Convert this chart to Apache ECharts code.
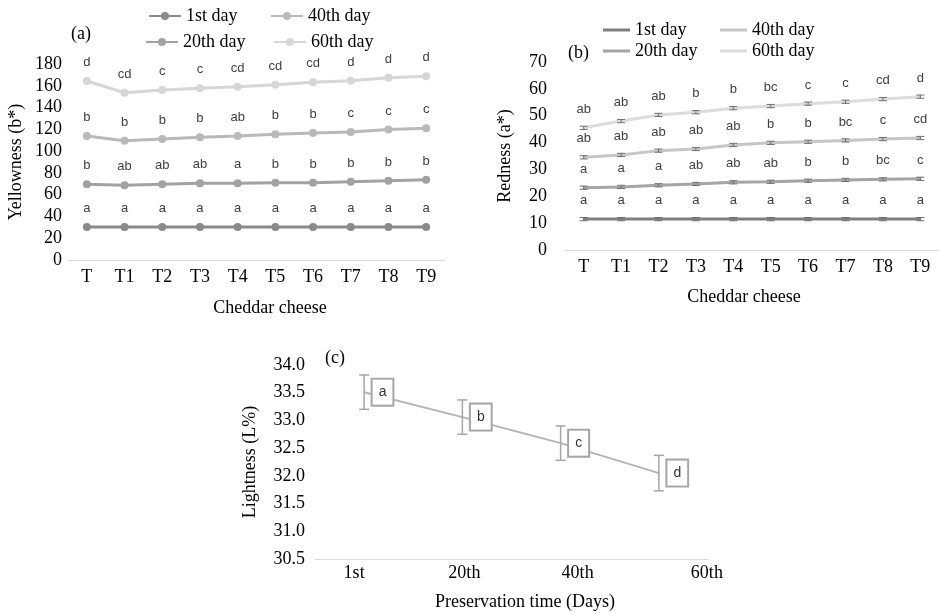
<!DOCTYPE html>
<html>
<head>
<meta charset="utf-8">
<script src="https://cdn.jsdelivr.net/npm/echarts@6/dist/echarts.min.js"></script>
<style>
html, body { margin: 0; padding: 0; background: #fff; }
#main { width: 939px; height: 614px; }
</style>
</head>
<body>
<div id="main"></div>
<script>
// treatments on the x axis of (a) and (b)
const cats = ['T', 'T1', 'T2', 'T3', 'T4', 'T5', 'T6', 'T7', 'T8', 'T9'];

// (a) yellowness b*
const yel1 = [30.3, 30.3, 30.3, 30.3, 30.3, 30.3, 30.3, 30.3, 30.3, 30.3];
const yel20 = [69.5, 68.6, 69.5, 70.4, 70.4, 71.0, 71.0, 71.9, 72.8, 73.7];
const yel40 = [113.9, 109.5, 111.1, 112.7, 113.9, 115.4, 116.6, 117.5, 119.8, 120.9];
const yel60 = [164.4, 153.6, 156.1, 157.7, 159.1, 161.0, 163.2, 164.6, 167.4, 168.7];
const yelLet1 = ['a', 'a', 'a', 'a', 'a', 'a', 'a', 'a', 'a', 'a'];
const yelLet20 = ['b', 'ab', 'ab', 'ab', 'a', 'b', 'b', 'b', 'b', 'b'];
const yelLet40 = ['b', 'b', 'b', 'b', 'ab', 'b', 'b', 'c', 'c', 'c'];
const yelLet60 = ['d', 'cd', 'c', 'c', 'cd', 'cd', 'cd', 'd', 'd', 'd'];

// (b) redness a*
const red1 = [11.5, 11.5, 11.5, 11.5, 11.5, 11.5, 11.5, 11.5, 11.5, 11.5];
const red20 = [23.2, 23.5, 24.1, 24.6, 25.2, 25.4, 25.8, 26.1, 26.3, 26.5];
const red40 = [34.5, 35.4, 37.0, 37.6, 39.1, 39.9, 40.3, 40.8, 41.3, 41.7];
const red60 = [45.5, 48.0, 50.3, 51.3, 52.8, 53.6, 54.5, 55.2, 56.2, 57.1];
const redErr = [0.6, 0.6, 0.6, 0.6, 0.6, 0.6, 0.6, 0.6, 0.6, 0.6];
const redLet1 = ['a', 'a', 'a', 'a', 'a', 'a', 'a', 'a', 'a', 'a'];
const redLet20 = ['a', 'a', 'a', 'ab', 'ab', 'ab', 'b', 'b', 'bc', 'c'];
const redLet40 = ['ab', 'ab', 'ab', 'ab', 'ab', 'b', 'b', 'bc', 'c', 'cd'];
const redLet60 = ['ab', 'ab', 'ab', 'b', 'b', 'bc', 'c', 'c', 'cd', 'd'];

// (c) lightness L%
const days = ['1st', '20th', '40th', '60th'];
const light = [33.51, 33.06, 32.59, 32.05];
const lightErr = [0.31, 0.31, 0.31, 0.32];
const lightLet = ['a', 'b', 'c', 'd'];

const serif = "'Liberation Serif', 'Times New Roman', serif";
const sans = "'Liberation Sans', Arial, sans-serif";

var myChart = echarts.init(document.getElementById('main'));

function lineA(name, data, letters, color) {
  return {
    name: 'a-' + name, type: 'line', xAxisIndex: 0, yAxisIndex: 0,
    data: data, symbol: 'circle', symbolSize: 8,
    lineStyle: { color: color, width: 3 },
    itemStyle: { color: color },
    label: {
      show: true, position: 'top', distance: 8,
      fontFamily: sans, fontSize: 13, color: '#404040',
      formatter: p => letters[p.dataIndex]
    }
  };
}

function lineB(name, data, letters, color) {
  return {
    name: 'b-' + name, type: 'line', xAxisIndex: 1, yAxisIndex: 1,
    data: data, symbol: 'circle', symbolSize: 2,
    lineStyle: { color: color, width: 3 },
    itemStyle: { color: color },
    label: {
      show: true, position: 'top', distance: 11,
      fontFamily: sans, fontSize: 13, color: '#404040',
      formatter: p => letters[p.dataIndex]
    }
  };
}

// error bar drawer
function errBars(xi, yi, vals, errs, cap, color, width) {
  return {
    type: 'custom', xAxisIndex: xi, yAxisIndex: yi, z: 5, silent: true,
    data: vals.map((v, i) => [i, v, errs[i]]),
    renderItem: function (params, api) {
      const x = api.value(0), v = api.value(1), e = api.value(2);
      const hi = api.coord([x, v + e]);
      const lo = api.coord([x, v - e]);
      const st = { stroke: color, lineWidth: width };
      return {
        type: 'group', children: [
          { type: 'line', shape: { x1: hi[0], y1: hi[1], x2: lo[0], y2: lo[1] }, style: st },
          { type: 'line', shape: { x1: hi[0] - cap, y1: hi[1], x2: hi[0] + cap, y2: hi[1] }, style: st },
          { type: 'line', shape: { x1: lo[0] - cap, y1: lo[1], x2: lo[0] + cap, y2: lo[1] }, style: st }
        ]
      };
    }
  };
}

function legendItem(name, left, top, icon) {
  const l = {
    data: [name], left: left, top: top, itemWidth: 32, itemHeight: 10,
    selectedMode: false,
    formatter: n => n.slice(2),
    textStyle: { fontFamily: serif, fontSize: 18, color: '#000' }
  };
  if (icon) { l.icon = 'rect'; l.itemWidth = 27; l.itemHeight = 3; }
  return l;
}

const catAxis = {
  type: 'category', boundaryGap: true,
  axisLine: { lineStyle: { color: '#d9d9d9' } },
  axisTick: { show: false },
  axisLabel: { fontFamily: serif, fontSize: 18, color: '#000', margin: 8 },
  nameLocation: 'middle',
  nameTextStyle: { fontFamily: serif, fontSize: 18, color: '#000' }
};

const valAxis = {
  type: 'value',
  axisLine: { show: false }, axisTick: { show: false }, splitLine: { show: false },
  nameLocation: 'middle',
  nameTextStyle: { fontFamily: serif, fontSize: 18, color: '#000' }
};

myChart.setOption({
  animation: false,
  title: [
    { text: '(a)', left: 66, top: 20, textStyle: { fontFamily: serif, fontSize: 18, fontWeight: 'normal', color: '#000' } },
    { text: '(b)', left: 563, top: 39, textStyle: { fontFamily: serif, fontSize: 18, fontWeight: 'normal', color: '#000' } },
    { text: '(c)', left: 320, top: 344, textStyle: { fontFamily: serif, fontSize: 18, fontWeight: 'normal', color: '#000' } }
  ],
  legend: [
    legendItem('a-1st day', 143, 2),
    legendItem('a-40th day', 265, 2),
    legendItem('a-20th day', 140, 28),
    legendItem('a-60th day', 268, 28),
    legendItem('b-1st day', 598, 16, true),
    legendItem('b-40th day', 715, 16, true),
    legendItem('b-20th day', 598, 37, true),
    legendItem('b-60th day', 715, 37, true)
  ],
  grid: [
    { left: 68, top: 64, width: 377, height: 196 },
    { left: 565, top: 62, width: 376, height: 188 },
    { left: 315, top: 365, width: 393, height: 194 }
  ],
  xAxis: [
    Object.assign({}, catAxis, { gridIndex: 0, data: cats, name: 'Cheddar cheese', nameGap: 39,
      nameTextStyle: Object.assign({}, catAxis.nameTextStyle, { padding: [0, 0, 0, 27] }) }),
    Object.assign({}, catAxis, { gridIndex: 1, data: cats, name: 'Cheddar cheese', nameGap: 38,
      nameTextStyle: Object.assign({}, catAxis.nameTextStyle, { padding: [0, 16, 0, 0] }) }),
    Object.assign({}, catAxis, { gridIndex: 2, data: days, name: 'Preservation time (Days)', nameGap: 34,
      nameTextStyle: Object.assign({}, catAxis.nameTextStyle, { padding: [0, 0, 0, 27] }),
      axisLabel: {
        fontFamily: serif, fontSize: 18, color: '#000', margin: 5,
        formatter: (v, i) => '{p' + i + '|' + v + '}',
        rich: {
          p0: { fontFamily: serif, fontSize: 18, padding: [0, 20, 0, 0] },
          p1: { fontFamily: serif, fontSize: 18, padding: [0, 0, 0, 4] },
          p2: { fontFamily: serif, fontSize: 18, padding: [0, 0, 0, 34] },
          p3: { fontFamily: serif, fontSize: 18, padding: [0, 0, 0, 96] }
        }
      } })
  ],
  yAxis: [
    Object.assign({}, valAxis, { gridIndex: 0, min: 0, max: 180, interval: 20, name: 'Yellowness (b*)', nameGap: 43,
      axisLabel: { fontFamily: serif, fontSize: 18, color: '#000', margin: 6 } }),
    Object.assign({}, valAxis, { gridIndex: 1, min: 0, max: 70, interval: 10, name: 'Redness (a*)', nameGap: 51,
      axisLabel: { fontFamily: serif, fontSize: 18, color: '#000', margin: 18 } }),
    Object.assign({}, valAxis, { gridIndex: 2, min: 30.5, max: 34, interval: 0.5, name: 'Lightness (L%)', nameGap: 56,
      axisLabel: { fontFamily: serif, fontSize: 18, color: '#000', margin: 10, formatter: v => v.toFixed(1) } })
  ],
  series: [
    lineA('1st day', yel1, yelLet1, '#8a8a8a'),
    lineA('20th day', yel20, yelLet20, '#a2a2a2'),
    lineA('40th day', yel40, yelLet40, '#b9b9b9'),
    lineA('60th day', yel60, yelLet60, '#d6d6d6'),
    lineB('1st day', red1, redLet1, '#808080'),
    lineB('20th day', red20, redLet20, '#a5a5a5'),
    lineB('40th day', red40, redLet40, '#c6c6c6'),
    lineB('60th day', red60, redLet60, '#dcdcdc'),
    errBars(1, 1, red1, redErr, 4, '#6f6f6f', 1),
    errBars(1, 1, red20, redErr, 4, '#6f6f6f', 1),
    errBars(1, 1, red40, redErr, 4, '#6f6f6f', 1),
    errBars(1, 1, red60, redErr, 4, '#6f6f6f', 1),
    {
      name: 'Lightness', type: 'line', xAxisIndex: 2, yAxisIndex: 2,
      data: light, symbol: 'circle', symbolSize: 1,
      lineStyle: { color: '#b4b4b4', width: 2 },
      itemStyle: { color: '#b4b4b4' },
      label: {
        show: true, position: 'right', distance: 8,
        fontFamily: sans, fontSize: 14, color: '#333',
        backgroundColor: '#fff', borderColor: '#a6a6a6', borderWidth: 2,
        padding: [5, 6], lineHeight: 15,
        formatter: p => lightLet[p.dataIndex]
      }
    },
    errBars(2, 2, light, lightErr, 5, '#a6a6a6', 1.5)
  ]
});
</script>
</body>
</html>
